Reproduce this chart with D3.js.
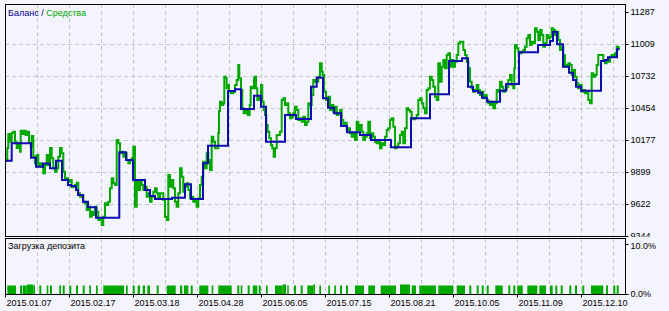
<!DOCTYPE html>
<html><head><meta charset="utf-8">
<script src="https://cdn.jsdelivr.net/npm/d3@7"></script>
<style>html,body{margin:0;padding:0;background:#f4f4fc;}svg{display:block;}</style>
</head><body>
<svg id="chart" width="669" height="311"></svg>
<script>
// ---- data (x = deal/bar index along the tester timeline) ----
const dateLabels = ["2015.01.07","2015.02.17","2015.03.18","2015.04.28","2015.06.05","2015.07.15","2015.08.21","2015.10.05","2015.11.09","2015.12.10"];
const dateTickIdx = [0,64,128,192,256,320,384,448,512,576];
const gridIdx = [32,64,96,128,160,192,224,256,288,320,352,384,416,448,480,512,544,576,608];
const yTickLabels = ["9344","9622","9899","10177","10454","10732","11009","11287"];
const yMin = 9344, yMax = 11287;
const loadTickLabels = ["0.0%","10.0%"];

const balance = [[0,9997],[6.7,10148],[26,10023],[31,9945],[38,9973],[45,9931],[51,9997],[57,9830],[63,9786],[66,9778],[71,9743],[73,9700],[78,9641],[83,9593],[91,9503],[114.3,10070],[121,10003],[128,9830],[140,9743],[145,9691],[150,9665],[167,9676],[180,9792],[186,9665],[198,9975],[203,10127],[223,10602],[230,10616],[236,10446],[249,10561],[256,10466],[261,10162],[280,10394],[291,10359],[306,10639],[311.7,10717],[318,10538],[323,10457],[329,10408],[336,10298],[342,10243],[355,10220],[366,10177],[386,10113],[406,10365],[425,10573],[444,10862],[457,10885],[463,10639],[468,10602],[473,10587],[477,10544],[482,10509],[495,10604],[501,10662],[514,10937],[533,11001],[545,11035],[548,11113],[552,11007],[558,10812],[564,10760],[568,10697],[571,10639],[576,10604],[596,10862],[600,10871],[603,10894],[612,10963],[614,10963]];

const equity = [[0,9995],[1.7,10010],[2.3,10107],[3.3,10229],[5,10162],[6.7,10237],[8.3,10249],[10,10162],[11.7,10107],[13.3,10151],[15,10075],[15.7,10257],[17.3,10229],[19,10257],[20.7,10220],[22.3,10249],[24,10151],[25.7,10118],[26.7,10211],[28.3,10032],[30,9975],[31.7,10047],[33.3,9960],[35,9975],[36.7,9945],[38.3,9888],[40,9960],[41.7,10047],[43.3,9960],[45,10107],[46.7,10018],[48.3,9931],[50,9902],[51.7,9931],[53.3,10032],[55,10107],[56.7,10061],[58.3,9902],[60,9830],[61.7,9844],[63.3,9815],[65,9830],[66.7,9766],[68.3,9772],[70,9786],[71.7,9806],[73.3,9714],[75,9685],[76.7,9700],[78.3,9641],[80,9628],[81.7,9569],[83.3,9598],[85,9511],[86.7,9555],[88.3,9526],[90,9598],[91.7,9555],[93.3,9483],[95,9497],[96.7,9439],[98.3,9511],[100,9628],[101.7,9613],[103.3,9641],[105,9758],[106.7,9844],[108.3,9801],[110,9786],[111.7,10177],[113.3,10148],[115,10061],[116.7,10075],[118.3,10032],[120,10061],[121.7,10003],[123.3,9975],[125,10003],[126.7,10018],[128.3,10118],[130,9598],[131.7,9815],[133.3,9743],[135,9815],[136.7,9786],[138.3,9743],[140,9772],[141.7,9685],[143.3,9714],[145,9641],[146.7,9685],[148.3,9728],[150,9758],[151.7,9714],[153.3,9671],[155,9714],[158.3,9656],[160,9511],[161.7,9483],[163.3,9873],[165,9772],[166.7,9830],[168.3,9758],[170,9641],[171.7,9598],[173.3,9714],[175,9931],[176.7,9858],[178.3,9728],[180,9772],[181.7,9801],[183.3,9743],[185,9671],[186.7,9685],[188.3,9641],[190,9656],[191.7,9598],[193.3,9671],[195,9786],[196.7,9858],[198.3,9988],[200,9931],[201.7,10061],[203.3,10003],[205,9916],[206.7,10205],[208.3,10162],[210,10105],[211.7,10105],[213.3,10237],[214,10428],[215,10509],[216.7,10480],[218.3,10495],[219.3,10726],[220.7,10712],[221.7,10625],[222.7,10654],[224,10596],[226,10582],[228.3,10596],[230,10654],[231.7,10697],[233.3,10827],[234.3,10712],[236,10610],[237.3,10452],[238.7,10408],[240.7,10437],[242.7,10394],[244.7,10480],[245.7,10639],[247.3,10625],[249,10712],[250,10726],[251,10625],[252.3,10524],[254,10552],[256,10654],[257.3,10509],[258.7,10437],[260,10394],[261.3,10307],[262.7,10249],[264.3,10191],[266,10133],[267.3,10105],[268.7,10032],[270,10105],[271.7,10220],[273.3,10220],[275,10249],[276.7,10524],[278.3,10538],[280,10480],[281.7,10495],[283.3,10408],[285,10365],[286.7,10379],[288.3,10408],[290,10466],[291.7,10437],[293.3,10350],[295,10365],[296.7,10335],[298.3,10379],[300,10307],[301.7,10335],[303.3,10495],[305,10480],[306.7,10567],[308.3,10697],[310,10682],[313.3,10726],[315,10842],[316.7,10769],[317.7,10740],[319,10596],[321,10524],[323.3,10552],[325,10437],[326.7,10480],[328.3,10422],[330,10466],[331.7,10394],[333.3,10408],[335,10437],[336.7,10350],[338.3,10307],[340,10327],[341.7,10263],[343.3,10278],[345,10235],[346.7,10205],[348.3,10235],[350,10177],[351.7,10335],[353.3,10263],[355,10307],[356.7,10249],[358.3,10177],[360,10205],[361.7,10235],[363.3,10335],[365,10191],[366.7,10235],[368.3,10205],[370,10162],[371.7,10148],[373.3,10177],[375,10105],[376.7,10148],[378.3,10133],[380,10205],[381.7,10263],[383.3,10278],[385,10350],[386.7,10365],[388.3,10292],[390,10105],[391.7,10118],[393.3,10148],[395,10220],[396.7,10249],[398.3,10148],[400,10278],[401.7,10452],[403.3,10437],[405,10422],[406.7,10365],[408.3,10356],[410,10365],[411.7,10394],[413.3,10524],[415,10538],[416.7,10495],[418.3,10452],[420,10408],[421.7,10610],[423.3,10625],[425,10726],[426.7,10697],[428.3,10639],[430,10552],[431.7,10524],[433.3,10842],[435,10682],[436.7,10812],[438.3,10871],[440,10799],[441.7,10914],[443.3,10929],[445,10812],[446.7,10871],[448.3,10812],[450,10856],[451.7,10914],[453.3,11015],[455,11029],[456.7,11029],[458.3,10957],[460,10914],[461.7,10856],[463.3,10799],[465,10682],[466.7,10625],[468.3,10596],[470,10610],[471.7,10654],[473.3,10610],[475,10567],[476.7,10596],[478.3,10538],[480,10567],[481.7,10524],[483.3,10495],[485,10480],[486.7,10509],[488.3,10452],[490,10495],[491.7,10610],[493.3,10596],[495,10682],[496.7,10639],[498.3,10596],[500,10610],[501.7,10639],[503.3,10697],[505,10740],[506.7,10654],[508.3,10625],[509.3,10799],[510,11001],[511.7,10972],[513.3,10943],[515,10929],[516.7,10943],[518.3,10957],[520,10986],[521.7,11059],[523.3,11087],[525,11001],[526.7,11029],[528.3,11015],[530,11146],[531.7,11116],[533.3,11044],[535,11131],[536.7,11087],[538.3,10986],[540,11015],[541.7,11087],[543.3,11059],[545,11073],[546.7,11146],[548.3,11131],[550,11087],[551.7,11116],[553.3,11044],[555,10957],[556.7,10986],[558.3,10914],[560,10827],[561.7,10812],[563.3,10842],[565,10827],[566.7,10740],[568.3,10784],[570,10726],[571.7,10668],[573.3,10625],[575,10654],[576.7,10596],[578.3,10610],[580,10582],[581.7,10596],[583.3,10524],[585,10495],[586.7,10755],[588.3,10726],[590,10740],[591.7,10827],[593.3,10914],[595,10914],[596.7,10914],[598.3,10871],[600,10842],[601.7,10871],[603.3,10856],[605,10899],[606.7,10914],[608.3,10899],[610,10929],[611.7,10986],[613.3,10972],[614,10957]];

// deposit load bars: [startIdx, endIdx, percent]
const loadBars = [[2.3,11,1.7],[15,17,1.7],[17.7,21.7,1.7],[21.7,28.3,1.9],[28.3,30,1.7],[34.3,36.3,1.7],[41.7,43.3,1.7],[45,47,1.7],[54.3,56,1.7],[57.7,59.7,1.7],[64.3,66.3,1.7],[71,73,1.7],[77.7,79.7,1.7],[84.3,86,1.7],[91,92.7,1.7],[98.3,105,1.7],[105,119,1.7],[121,122.7,1.7],[127.7,129.7,1.7],[132.7,135,1.7],[137.7,140,1.7],[142.3,145,1.7],[151.7,153.7,1.7],[161.7,170.7,1.7],[175,177.3,1.7],[179,183.3,1.7],[185.7,187.7,1.7],[194.3,203.3,1.7],[206.7,208.3,1.7],[213.3,226.7,1.7],[232.3,234.3,1.7],[235.7,237.3,1.7],[242.7,244.7,1.7],[247.7,252.3,1.7],[253.7,255.7,1.7],[261,262.7,1.7],[270,277.7,1.7],[277.7,281,1.9],[282.3,283.7,1.7],[289,291,1.7],[295.7,297.7,1.7],[302.3,308.3,1.7],[308.3,310,1.9],[314.3,316,1.7],[323.3,325,1.7],[329.3,331,1.7],[335,337,1.7],[341,343,1.7],[350,359,1.7],[363.3,370,1.7],[375.7,391,1.7],[395,405,1.9],[406.7,411,1.7],[414.3,431,1.7],[433.3,448.3,1.7],[451.7,460,1.7],[464.3,466.3,1.7],[471.7,473.7,1.7],[476.7,478.7,1.7],[481.7,483.7,1.7],[490.3,497.7,1.7],[503.3,505.3,1.7],[508.3,510.3,1.7],[512.3,517.7,1.7],[522.3,532.3,1.7],[534.3,541,1.7],[545,547.7,1.7],[550.3,552.3,1.7],[555.7,557.7,1.7],[564.3,566.3,1.7],[570,572,1.7],[577.3,579.3,1.7],[586,598.3,1.7],[601,603,1.7],[608.3,610.3,1.7],[611.7,613.7,1.7]];

// ---- layout ----
const L = 5, R = 625, mainTop = 4, mainBot = 236, subTop = 238, subBot = 294;
const BG = "#f4f4fc", GRID = "#c4c4cc", BLUE = "#0c0cb0", GREEN = "#00a800";
const FONT = "Liberation Sans, Arial, sans-serif";

const svg = d3.select("#chart");
svg.append("rect").attr("width",669).attr("height",311).attr("fill",BG);

const x = d3.scaleLinear().domain([0,620]).range([L,R]);
const y = d3.scaleLinear().domain([yMin,yMax]).range([mainBot,12]);
const yl = d3.scaleLinear().domain([0,10]).range([subBot,244]);
const yTickVals = yTickLabels.map((_,i)=> yMin + i*(yMax-yMin)/(yTickLabels.length-1));

// grid
const g = svg.append("g").attr("stroke",GRID).attr("stroke-dasharray","4,3").attr("stroke-width",1);
gridIdx.forEach(i=>{
  const xp = Math.round(x(i))+0.5;
  g.append("line").attr("x1",xp).attr("x2",xp).attr("y1",mainTop).attr("y2",mainBot);
  g.append("line").attr("x1",xp).attr("x2",xp).attr("y1",subTop).attr("y2",subBot);
});
yTickVals.slice(1,-1).forEach(v=>{
  const yp = Math.round(y(v))+0.5;
  g.append("line").attr("x1",L).attr("x2",R).attr("y1",yp).attr("y2",yp);
});

// load bars
svg.append("g").selectAll("rect").data(loadBars).join("rect")
  .attr("x",d=>x(d[0])).attr("width",d=>Math.max(1,x(d[1])-x(d[0])))
  .attr("y",d=>yl(d[2])).attr("height",d=>subBot-yl(d[2]))
  .attr("fill",GREEN);

// lines
const defs = svg.append("defs");
defs.append("clipPath").attr("id","clipMain").append("rect")
  .attr("x",L).attr("y",mainTop).attr("width",R-L).attr("height",mainBot-mainTop);
defs.append("clipPath").attr("id","clipAxis").append("rect")
  .attr("x",0).attr("y",0).attr("width",669).attr("height",mainBot+1);
const eqLine = d3.line().x(d=>x(d[0])).y(d=>y(d[1])).curve(d3.curveStepAfter);
svg.append("path").datum(equity).attr("d",eqLine).attr("fill","none")
  .attr("stroke",GREEN).attr("stroke-width",2).attr("clip-path","url(#clipMain)");
const balLine = d3.line().x(d=>x(d[0])).y(d=>y(d[1])).curve(d3.curveStepAfter);
svg.append("path").datum(balance).attr("d",balLine).attr("fill","none")
  .attr("stroke",BLUE).attr("stroke-width",2).attr("clip-path","url(#clipMain)");

// frames
svg.append("rect").attr("x",L+0.5).attr("y",mainTop+0.5).attr("width",R-L).attr("height",mainBot-mainTop)
  .attr("fill","none").attr("stroke","#000").attr("stroke-width",1);
svg.append("rect").attr("x",L+0.5).attr("y",subTop+0.5).attr("width",R-L).attr("height",subBot-subTop)
  .attr("fill","none").attr("stroke","#000").attr("stroke-width",1);

// right axis (main panel labels clipped at the panel bottom, as in the original)
const ya = svg.append("g").attr("clip-path","url(#clipAxis)").append("g")
  .attr("transform",`translate(${R+0.5},0)`)
  .call(d3.axisRight(y).tickValues(yTickVals).tickFormat((d,i)=>yTickLabels[i]).tickSize(3).tickPadding(2));
ya.select(".domain").remove();
ya.selectAll("text").attr("font-family",FONT).attr("font-size","9px").attr("fill","#000");
ya.selectAll("line").attr("stroke","#000");

const la = svg.append("g").attr("transform",`translate(${R+0.5},0)`)
  .call(d3.axisRight(yl).tickValues([0,10]).tickFormat((d,i)=>loadTickLabels[i]).tickSize(3).tickPadding(2));
la.select(".domain").remove();
la.selectAll("text").attr("font-family",FONT).attr("font-size","9px").attr("fill","#000");
la.selectAll("text").filter(d=>d===10).attr("dy","0.55em");
la.selectAll("line").attr("stroke","#000");

// bottom axis
const xa = svg.append("g").attr("transform",`translate(0,${subBot+0.5})`)
  .call(d3.axisBottom(x).tickValues(dateTickIdx).tickFormat((d,i)=>dateLabels[i]).tickSize(3).tickPadding(2));
xa.select(".domain").remove();
xa.selectAll("line").attr("stroke","#000");
xa.selectAll("text").attr("font-family",FONT).attr("font-size","9px").attr("fill","#000")
  .attr("text-anchor","start").attr("dx","1px");

// titles
const t = svg.append("text").attr("x",8).attr("y",16).attr("font-family",FONT).attr("font-size","9px");
t.append("tspan").text("Баланс").attr("fill","#000090");
t.append("tspan").text(" / ").attr("fill","#000090");
t.append("tspan").text("Средства").attr("fill",GREEN);
svg.append("text").attr("x",8).attr("y",249).attr("font-family",FONT).attr("font-size","9px")
  .attr("fill","#000").text("Загрузка депозита");
</script>
</body></html>
